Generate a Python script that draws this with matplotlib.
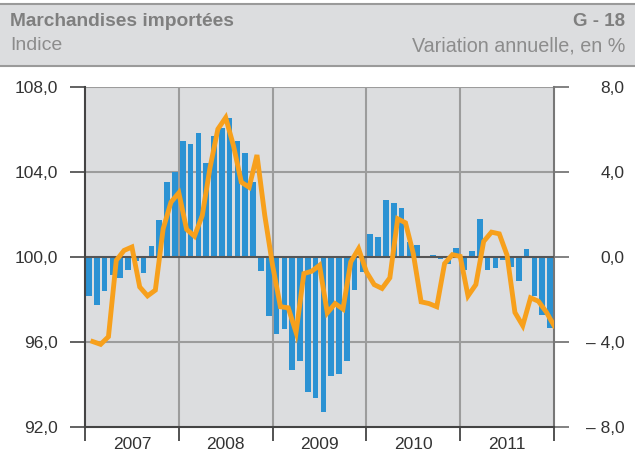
import matplotlib
matplotlib.use("Agg")
import matplotlib.pyplot as plt
from matplotlib.patches import Rectangle
from matplotlib.lines import Line2D

plt.rcParams['font.family'] = ['Liberation Sans', 'DejaVu Sans']

years = ["2007", "2008", "2009", "2010", "2011"]

# Annual variation, % (bars, right axis) - monthly Jan 2007 .. Dec 2011
variation = [
    -1.83, -2.25, -1.60, -0.83, -0.98, -0.61, -0.20, -0.75, 0.50, 1.72, 3.55, 4.00,
    5.47, 5.33, 5.84, 4.44, 5.70, 6.08, 6.55, 5.47, 4.91, 3.55, -0.66, -2.77,
    -3.64, -3.41, -5.34, -4.88, -6.33, -6.64, -7.30, -5.58, -5.52, -4.88, -1.55, -0.70,
    1.10, 0.93, 2.66, 2.56, 2.29, 0.70, 0.55, 0.00, 0.08, -0.08, -0.31, 0.41,
    -0.62, 0.27, 1.77, -0.62, -0.52, -0.14, -0.48, -1.14, 0.36, -1.84, -2.73, -3.33,
]

# Index (line, left axis)
index = [
    96.02, 95.89, 96.25, 99.84, 100.31, 100.47, 98.59, 98.17, 98.44, 101.33, 102.58, 103.02,
    101.30, 100.98, 101.95, 104.22, 106.02, 106.56, 105.23, 103.52, 103.28, 104.80, 101.95, 99.60,
    97.66, 97.61, 96.45, 99.22, 99.33, 99.61, 97.37, 97.81, 97.55, 99.77, 100.39, 99.30,
    98.70, 98.52, 99.02, 101.80, 101.61, 100.16, 97.89, 97.81, 97.66, 99.69, 100.11, 100.03,
    98.17, 98.70, 100.73, 101.17, 101.09, 100.08, 97.39, 96.77, 98.08, 97.92, 97.42, 96.77,
]

left_ticks = [92, 96, 100, 104, 108]
left_labels = ["92,0", "96,0", "100,0", "104,0", "108,0"]
right_ticks = [-8, -4, 0, 4, 8]
right_labels = ["\u2013 8,0", "\u2013 4,0", "0,0", "4,0", "8,0"]

W, H = 635, 455
fig = plt.figure(figsize=(W / 100, H / 100), dpi=100)
fig.patch.set_facecolor("white")

# Header band
fig.patches.append(Rectangle((0, 1 - 66 / H), 1, 62 / H, transform=fig.transFigure,
                             facecolor="#DCDDDF", edgecolor="none", zorder=0))
fig.lines.append(Line2D([0, 1], [1 - 4 / H, 1 - 4 / H], transform=fig.transFigure,
                        color="#9A9A9A", lw=1.5))
fig.lines.append(Line2D([0, 1], [1 - 66 / H, 1 - 66 / H], transform=fig.transFigure,
                        color="#9A9A9A", lw=1.5))
hc = "#7F7F7F"
fig.text(10 / W, 1 - 21 / H, "Marchandises importées", fontsize=13.8, fontweight="bold",
         color=hc, va="center", ha="left")
fig.text(625 / W, 1 - 21 / H, "G - 18", fontsize=13.5, fontweight="bold",
         color=hc, va="center", ha="right")
fig.text(10 / W, 1 - 46 / H, "Indice", fontsize=14, color="#8C8C8C", va="center", ha="left")
fig.text(625 / W, 1 - 46 / H, "Variation annuelle, en %", fontsize=14.2, color="#8C8C8C",
         va="center", ha="right")

L, R, T, B = 85, 554, 87, 427
ax2 = fig.add_axes([L / W, 1 - B / H, (R - L) / W, (B - T) / H])
ax = ax2.twinx()
ax2.set_facecolor("#DCDDDF")
ax.set_zorder(ax2.get_zorder() + 1)
ax.patch.set_visible(False)

n = len(variation)
xb = [i + 0.5 for i in range(n)]
xl = [i + 1 for i in range(n)]

ax2.set_xlim(0, n)
ax2.set_ylim(-8, 8)
ax.set_ylim(92, 108)

grid_c = "#9C9C9C"
for y in [-4, 4, 8]:
    ax2.axhline(y, color=grid_c, lw=1.5, zorder=0.5)
for xv in range(12, n, 12):
    ax2.axvline(xv, color=grid_c, lw=1.5, zorder=0.5)

ax2.bar(xb, variation, width=0.72, color="#2B92D3", zorder=2, linewidth=0)
ax2.axhline(0, color="#555555", lw=1.5, zorder=3)

ax.plot(xl, index, color="#F7A01C", lw=3.5, solid_joinstyle="miter", zorder=4)

# Y axes: left labels index, right labels variation
ax2.yaxis.tick_right()
ax.yaxis.tick_left()
ax.yaxis.set_label_position("left")
ax2.set_yticks(right_ticks)
ax2.set_yticklabels(right_labels)
ax.set_yticks(left_ticks)
ax.set_yticklabels(left_labels)

tick_c = "#333333"
ax.tick_params(axis="y", direction="out", length=11, width=1.3, color="#555555",
               labelsize=12.5, labelcolor=tick_c, pad=8.5)
ax2.tick_params(axis="y", direction="out", length=11, width=1.3, color="#777777",
                labelsize=12.5, labelcolor=tick_c, pad=39.5, left=False, labelleft=False,
                right=True, labelright=True)
for lab in ax2.get_yticklabels():
    lab.set_horizontalalignment("right")

# X axis
ax2.set_xticks(range(0, n + 1, 12))
ax2.set_xticklabels([""] * 6)
ax2.set_xticks([6 + 12 * k for k in range(len(years))], minor=True)
ax2.set_xticklabels(years, minor=True)
ax2.tick_params(axis="x", which="major", direction="out", length=10, width=1.3, color="#444444")
ax2.tick_params(axis="x", which="minor", length=0, labelsize=12.5, labelcolor=tick_c, pad=7)
ax.tick_params(axis="x", which="both", bottom=False, labelbottom=False)

for a in (ax, ax2):
    for s in a.spines.values():
        s.set_visible(False)
ax.spines["left"].set_visible(True)
ax.spines["left"].set_color("#444444")
ax.spines["left"].set_linewidth(1.5)
ax2.spines["bottom"].set_visible(True)
ax2.spines["bottom"].set_color("#444444")
ax2.spines["bottom"].set_linewidth(1.5)
ax2.spines["right"].set_visible(True)
ax2.spines["right"].set_color("#777777")
ax2.spines["right"].set_linewidth(1.5)

fig.savefig("out.png", dpi=100, facecolor="white")
